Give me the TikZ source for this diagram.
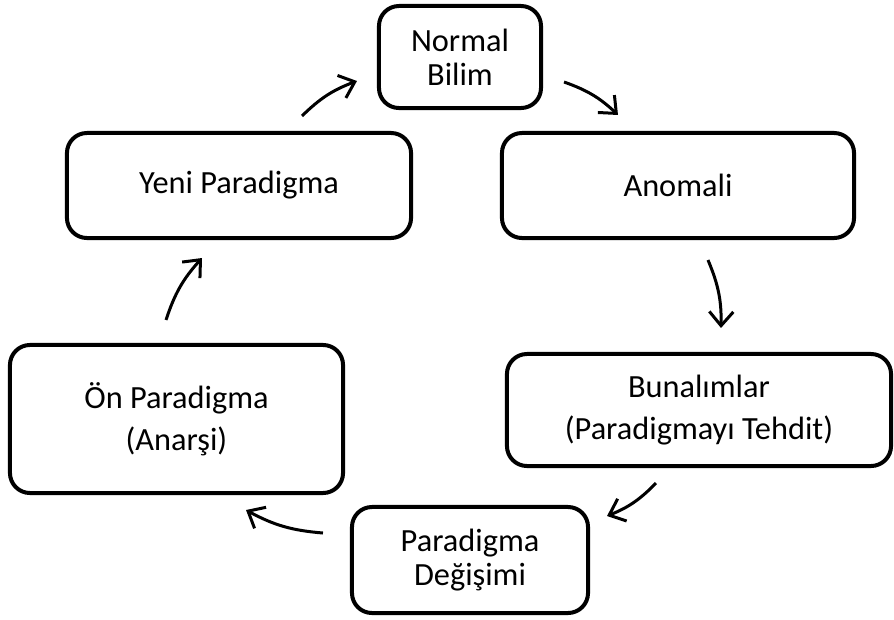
\documentclass[tikz,border=0pt]{standalone}
\usepackage{fontspec}
\setmainfont{Carlito}
\usetikzlibrary{arrows.meta}

\begin{document}
\begin{tikzpicture}[x=0.025cm, y=-0.025cm,
  box/.style={draw, line width=0.1cm, rounded corners=0.5cm, outer sep=0pt,
    align=center, font=\fontsize{23pt}{24pt}\selectfont},
  widebox/.style={box, font=\fontsize{23pt}{30pt}\selectfont},
  flow/.style={-{Straight Barb[length=0.35cm, width=0.6cm, line width=0.075cm]},
    line width=0.075cm, bend left=12}]
\useasboundingbox (0,0) rectangle (894,619);

\node[box, minimum width=4.05cm, minimum height=2.55cm] (normal) at (460,57) {Normal\\Bilim};
\node[box, minimum width=8.6cm, minimum height=2.625cm] (yeni) at (239,185.5) {Yeni Paradigma};
\node[box, minimum width=8.8cm, minimum height=2.625cm] (anomali) at (678,185.5) {Anomali};
\node[widebox, minimum width=8.325cm, minimum height=3.7cm] (on) at (176.5,419) {Ön Paradigma\\(Anarşi)};
\node[widebox, minimum width=9.6cm, minimum height=2.8cm] (bunalim) at (699,410) {Bunalımlar\\(Paradigmayı Tehdit)};
\node[box, minimum width=5.9cm, minimum height=2.65cm] (degisim) at (470,560) {Paradigma\\Değişimi};

\draw[flow] ([shift={(63,-17)}]yeni.north) to ([shift={(-22,24)}]normal.west);
\draw[flow] ([shift={(23,25)}]normal.east) to ([shift={(-60,-18)}]anomali.north);
\draw[flow] ([shift={(30,22)}]anomali.south) to ([shift={(22,-26)}]bunalim.north);
\draw[flow] ([shift={(-43,17)}]bunalim.south) to ([shift={(19,-44)}]degisim.east);
\draw[flow] ([shift={(-29,-27)}]degisim.west) to ([shift={(69.5,17)}]on.south);
\draw[flow] ([shift={(-10.5,-25)}]on.north) to ([shift={(-37,20)}]yeni.south);
\end{tikzpicture}
\end{document}
